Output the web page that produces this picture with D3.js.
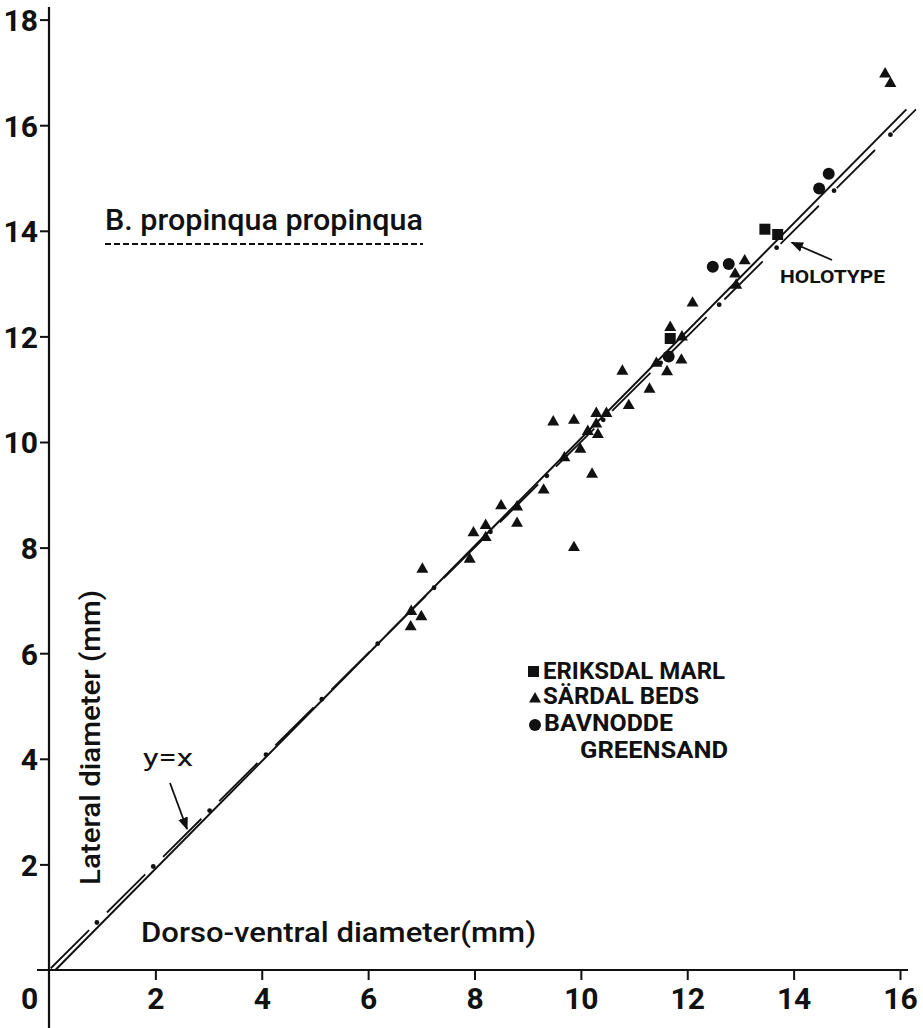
<!DOCTYPE html>
<html>
<head>
<meta charset="utf-8">
<script src="https://cdn.jsdelivr.net/npm/d3@7"></script>
<style>
  body { margin: 0; background: #fff; }
  svg { display: block; }
  .tick text { font-family: Roboto, "DejaVu Sans", sans-serif; font-weight: bold; fill: #111; }
  .lbl { font-family: Roboto, "DejaVu Sans", sans-serif; fill: #111; }
</style>
</head>
<body>
<svg class="chart"></svg>
<script>
// dorso-ventral (x) vs lateral (y) diameter, mm
const eriksdalMarl = [[11.68, 11.96], [13.46, 14.03], [13.70, 13.93]]
const bavnoddeGreensand = [[11.65, 11.62], [12.48, 13.32], [12.78, 13.37], [14.48, 14.80], [14.66, 15.08]]
const sardalBeds = [
  [6.80, 6.50], [6.81, 6.79], [7.00, 6.69], [7.02, 7.59], [7.91, 7.78], [7.98, 8.28],
  [8.21, 8.42], [8.21, 8.19], [8.50, 8.79], [8.80, 8.77], [8.80, 8.46], [9.30, 9.09],
  [9.87, 8.00], [9.48, 10.38], [9.69, 9.70], [9.87, 10.41], [9.99, 9.86], [10.13, 10.20],
  [10.21, 9.39], [10.29, 10.54], [10.29, 10.34], [10.32, 10.14], [10.48, 10.54], [10.78, 11.34],
  [10.90, 10.69], [11.29, 11.00], [11.42, 11.49], [11.62, 11.33], [11.89, 11.55], [11.68, 12.17],
  [11.90, 11.99], [12.10, 12.63], [12.90, 13.18], [12.92, 12.97], [13.08, 13.43],
  [15.72, 16.97], [15.82, 16.79]
]
const fittedLine = [[0.12, 0], [16.12, 16.3]]
const identityLine = [[0, 0], [16.3, 16.3]]
const identityDots = [0.9, 1.96, 3.02, 4.08, 5.13, 6.18, 7.24, 8.3, 9.36, 10.42, 11.5, 12.6, 13.68, 14.76, 15.82]
const xTicks = [0, 2, 4, 6, 8, 10, 12, 14, 16]
const yTicks = [2, 4, 6, 8, 10, 12, 14, 16, 18]
const legendItems = ["ERIKSDAL MARL", "SÄRDAL BEDS", "BAVNODDE", "GREENSAND"]
const holotype = [13.70, 13.93]

const width = 923, height = 1028
const ink = "#111"

const svg = d3.select(".chart")
  .attr("width", width)
  .attr("height", height)

const x = d3.scaleLinear().domain([0, 16]).range([49, 900])
const y = d3.scaleLinear().domain([0, 18]).range([970, 19.6])

// axes lines (the y axis runs past the x axis, like the original)
svg.append("line")
  .attr("x1", 37).attr("x2", 908)
  .attr("y1", y(0)).attr("y2", y(0))
  .attr("stroke", ink).attr("stroke-width", 2.2)
svg.append("line")
  .attr("x1", x(0)).attr("x2", x(0))
  .attr("y1", 7).attr("y2", height)
  .attr("stroke", ink).attr("stroke-width", 2.2)

const xAxis = svg.append("g")
  .attr("transform", "translate(0," + y(0) + ")")
  .call(d3.axisBottom(x).tickValues(xTicks).tickSize(10).tickFormat(d3.format("d")))
xAxis.select(".domain").remove()
xAxis.selectAll(".tick line").attr("stroke", ink).attr("stroke-width", 2)
xAxis.selectAll(".tick text")
  .attr("y", 39).attr("dy", 0)
  .style("font-size", "30px")
xAxis.selectAll(".tick").filter(d => d === 0).select("text").attr("x", -20)
xAxis.selectAll(".tick").filter(d => d === 0).select("line").remove()

const yAxis = svg.append("g")
  .attr("transform", "translate(" + x(0) + ",0)")
  .call(d3.axisLeft(y).tickValues(yTicks).tickSize(9).tickPadding(2).tickFormat(d3.format("d")))
yAxis.select(".domain").remove()
yAxis.selectAll(".tick line").attr("stroke", ink).attr("stroke-width", 2)
yAxis.selectAll(".tick text").style("font-size", "30px").attr("dy", "0.36em")

// y = x reference (dash-dot) and fitted line
const line = d3.line().x(d => x(d[0])).y(d => y(d[1]))

svg.append("path")
  .datum(identityLine)
  .attr("d", line)
  .attr("fill", "none")
  .attr("stroke", ink)
  .attr("stroke-width", 1.8)
  .attr("stroke-dasharray", "54,25.1")
  .attr("stroke-dashoffset", -2.5)

svg.selectAll(".iddot")
  .data(identityDots)
  .join("circle")
  .attr("class", "iddot")
  .attr("cx", d => x(d)).attr("cy", d => y(d))
  .attr("r", 2.4).attr("fill", ink)

svg.append("path")
  .datum(fittedLine)
  .attr("d", line)
  .attr("fill", "none")
  .attr("stroke", ink)
  .attr("stroke-width", 2)

// markers
const tri = d3.symbol().type(d3.symbolTriangle).size(62)
svg.selectAll(".tri")
  .data(sardalBeds)
  .join("path")
  .attr("class", "tri")
  .attr("d", tri)
  .attr("transform", d => "translate(" + x(d[0]) + "," + y(d[1]) + ")")
  .attr("fill", ink)

svg.selectAll(".sq")
  .data(eriksdalMarl)
  .join("rect")
  .attr("class", "sq")
  .attr("x", d => x(d[0]) - 5.5).attr("y", d => y(d[1]) - 5.5)
  .attr("width", 11).attr("height", 11)
  .attr("fill", ink)

svg.selectAll(".dot")
  .data(bavnoddeGreensand)
  .join("circle")
  .attr("class", "dot")
  .attr("cx", d => x(d[0])).attr("cy", d => y(d[1]))
  .attr("r", 6).attr("fill", ink)

// arrowhead
svg.append("defs").append("marker")
  .attr("id", "arrow")
  .attr("viewBox", "0 0 10 10")
  .attr("refX", 9).attr("refY", 5)
  .attr("markerWidth", 7).attr("markerHeight", 7)
  .attr("orient", "auto")
  .append("path").attr("d", "M0,1 L10,5 L0,9 Z").attr("fill", ink)

// holotype label
svg.append("line")
  .attr("x1", 832).attr("y1", 260)
  .attr("x2", x(holotype[0]) + 14).attr("y2", y(holotype[1]) + 8)
  .attr("stroke", ink).attr("stroke-width", 1.8)
  .attr("marker-end", "url(#arrow)")
svg.append("text")
  .attr("class", "lbl")
  .attr("x", 780).attr("y", 283)
  .attr("textLength", 105).attr("lengthAdjust", "spacingAndGlyphs")
  .style("font-size", "18px").style("font-weight", "bold")
  .text("HOLOTYPE")

// y = x label
svg.append("text")
  .attr("class", "lbl")
  .attr("x", 143).attr("y", 766)
  .attr("textLength", 50).attr("lengthAdjust", "spacingAndGlyphs")
  .style("font-size", "24px")
  .text("y=x")
svg.append("line")
  .attr("x1", 170).attr("y1", 783)
  .attr("x2", 187).attr("y2", 829)
  .attr("stroke", ink).attr("stroke-width", 1.8)
  .attr("marker-end", "url(#arrow)")

// species title
svg.append("text")
  .attr("class", "lbl")
  .attr("x", 105).attr("y", 230)
  .attr("textLength", 318).attr("lengthAdjust", "spacingAndGlyphs")
  .style("font-size", "30px").style("font-weight", 500)
  .text("B. propinqua propinqua")
svg.append("line")
  .attr("x1", 105).attr("x2", 423)
  .attr("y1", 244).attr("y2", 244)
  .attr("stroke", ink).attr("stroke-width", 2)
  .attr("stroke-dasharray", "6,3")

// axis titles
svg.append("text")
  .attr("class", "lbl")
  .attr("x", 141).attr("y", 942)
  .attr("textLength", 395).attr("lengthAdjust", "spacingAndGlyphs")
  .style("font-size", "27px").style("font-weight", 500)
  .text("Dorso-ventral diameter(mm)")
svg.append("text")
  .attr("class", "lbl")
  .attr("transform", "translate(100,885) rotate(-90)")
  .attr("textLength", 295).attr("lengthAdjust", "spacingAndGlyphs")
  .style("font-size", "28px").style("font-weight", 500)
  .text("Lateral diameter (mm)")

// legend
const legend = svg.append("g").attr("class", "legend")
legend.append("rect")
  .attr("x", 528).attr("y", 666).attr("width", 11).attr("height", 11).attr("fill", ink)
legend.append("path")
  .attr("d", tri).attr("transform", "translate(535,699)").attr("fill", ink)
legend.append("circle")
  .attr("cx", 535).attr("cy", 725).attr("r", 6).attr("fill", ink)

const legendPos = [[543, 679, 182], [543, 704, 156], [544, 731, 129], [580, 758, 148]]
legend.selectAll("text")
  .data(legendItems)
  .join("text")
  .attr("class", "lbl")
  .attr("x", (d, i) => legendPos[i][0])
  .attr("y", (d, i) => legendPos[i][1])
  .attr("textLength", (d, i) => legendPos[i][2])
  .attr("lengthAdjust", "spacingAndGlyphs")
  .style("font-size", "23px").style("font-weight", "bold")
  .text(d => d)
</script>
</body>
</html>
